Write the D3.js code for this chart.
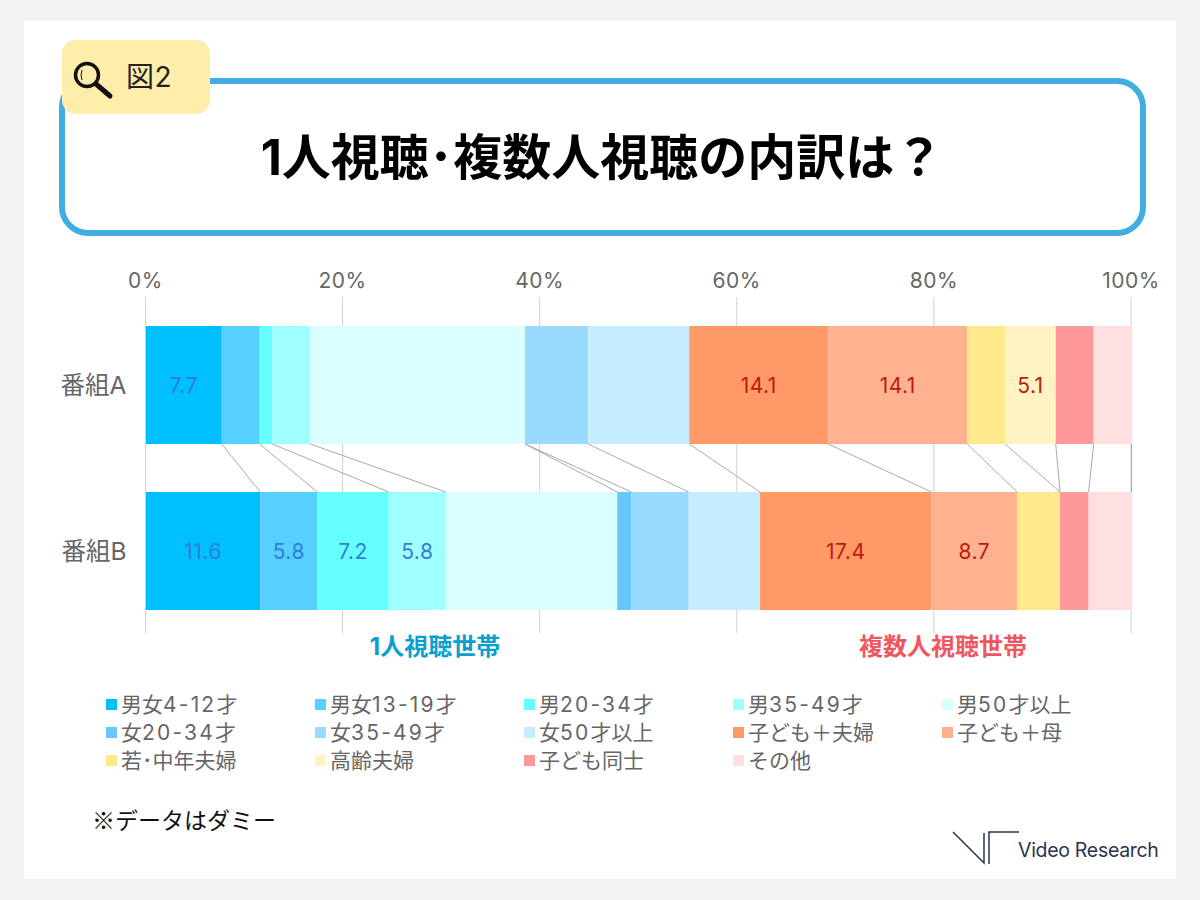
<!DOCTYPE html>
<html lang="ja">
<head>
<meta charset="utf-8">
<script src="https://cdn.jsdelivr.net/npm/d3@7"></script>
<style>
  html, body { margin: 0; padding: 0; background: #f2f2f2; }
  svg { display: block; }
  text { font-family: Inter, "Noto Sans CJK JP", sans-serif; }
</style>
</head>
<body>
<div id="figure"></div>
<script>
const programs = ["番組A", "番組B"];
const seriesNames = ["男女4-12才", "男女13-19才", "男20-34才", "男35-49才", "男50才以上",
  "女20-34才", "女35-49才", "女50才以上", "子ども＋夫婦", "子ども＋母",
  "若･中年夫婦", "高齢夫婦", "子ども同士", "その他"];
const valuesA = [7.69, 3.85, 1.28, 3.85, 21.79, 0, 6.41, 10.26, 14.1, 14.1, 3.85, 5.13, 3.85, 3.84];
const valuesB = [11.59, 5.8, 7.24, 5.8, 17.39, 1.45, 5.8, 7.24, 17.39, 8.7, 4.35, 0, 2.9, 4.35];
const labelledA = ["男女4-12才", "子ども＋夫婦", "子ども＋母", "高齢夫婦"];
const labelledB = ["男女4-12才", "男女13-19才", "男20-34才", "男35-49才", "子ども＋夫婦", "子ども＋母"];
const seriesColors = ["#00bfff", "#55d0ff", "#66ffff", "#a0ffff", "#d9ffff",
  "#66c8ff", "#99dbff", "#c6ecff", "#ff9966", "#ffb190",
  "#ffe98c", "#fff3c4", "#ff9999", "#ffe0e0"];
const xTicks = [0, 20, 40, 60, 80, 100];

const svg = d3.select("#figure").append("svg").attr("width", 1200).attr("height", 900);

// panel
svg.append("rect").attr("width", 1200).attr("height", 900).attr("fill", "#f2f2f2");
svg.append("rect").attr("x", 24).attr("y", 21).attr("width", 1152).attr("height", 858).attr("fill", "#fff");

// title box and tag
svg.append("rect").attr("x", 62).attr("y", 81).attr("width", 1081).attr("height", 152).attr("rx", 26)
  .attr("fill", "#fff").attr("stroke", "#41ade0").attr("stroke-width", 6);
svg.append("rect").attr("x", 62).attr("y", 40).attr("width", 148).attr("height", 74).attr("rx", 14).attr("fill", "#ffedab");

const icon = svg.append("g").attr("fill", "none").attr("stroke", "#111");
icon.append("circle").attr("cx", 87).attr("cy", 75).attr("r", 11.5).attr("stroke-width", 3.5);
icon.append("line").attr("x1", 96).attr("y1", 84).attr("x2", 110).attr("y2", 96)
  .attr("stroke-width", 5).attr("stroke-linecap", "round");
icon.append("path").attr("d", "M82 70Q80 75 82 80").attr("stroke-width", 1);

svg.append("text").attr("x", 126).attr("y", 87).attr("font-size", 28).attr("letter-spacing", 0.5)
  .attr("fill", "#222").text("図2");
svg.append("text").attr("x", 602).attr("y", 175).attr("text-anchor", "middle")
  .attr("font-size", 49).attr("font-weight", 700).attr("fill", "#000")
  .text("1人視聴･複数人視聴の内訳は？");

// chart
const x = d3.scaleLinear().domain([0, 100]).range([146, 1131.5]);
const y = d3.scaleBand().domain(programs).range([326, 610]).paddingInner(48 / 166);

const rows = programs.map((p, i) => {
  const row = { program: p };
  seriesNames.forEach((s, j) => { row[s] = (i === 0 ? valuesA : valuesB)[j]; });
  return row;
});
const stacked = d3.stack().keys(seriesNames)(rows);

svg.append("g").attr("transform", "translate(0,297)")
  .call(d3.axisTop(x).tickValues(xTicks).tickFormat(d => d + "%").tickSize(-336).tickPadding(9).offset(-0.5))
  .call(g => g.select(".domain").remove())
  .call(g => g.selectAll("line").attr("stroke", "#d0d0d0"))
  .call(g => g.selectAll("text").attr("font-size", 21).attr("letter-spacing", 0.5).attr("fill", "#666")
    .style("font-family", "Inter, 'Noto Sans CJK JP', sans-serif"));

svg.selectAll("g.layer").data(stacked).join("g").attr("class", "layer")
  .attr("fill", (d, i) => seriesColors[i])
  .selectAll("rect").data(d => d).join("rect")
  .attr("x", d => x(d[0]))
  .attr("y", d => y(d.data.program))
  .attr("width", d => x(d[1]) - x(d[0]))
  .attr("height", y.bandwidth());

// series lines between the two bars
svg.selectAll("line.series").data(stacked).join("line").attr("class", "series")
  .attr("x1", d => x(d[0][1])).attr("y1", y(programs[0]) + y.bandwidth())
  .attr("x2", d => x(d[1][1])).attr("y2", y(programs[1]))
  .attr("stroke", "#aaa").attr("stroke-width", 1);

// value labels
const fmt = d3.format(".1f");
stacked.forEach((layer, i) => {
  const blue = i < 8;
  layer.forEach((d, r) => {
    const shown = r === 0 ? labelledA : labelledB;
    if (!shown.includes(layer.key)) return;
    svg.append("text").attr("x", x((d[0] + d[1]) / 2)).attr("y", y(d.data.program) + y.bandwidth() / 2 + 8)
      .attr("text-anchor", "middle").attr("font-size", 21).attr("letter-spacing", 0.5)
      .attr("fill", blue ? "#2f7fd6" : "#c01a10").text(fmt(d[1] - d[0]));
  });
});

// category labels
svg.selectAll("text.cat").data(programs).join("text").attr("class", "cat")
  .attr("x", 126.5).attr("y", d => y(d) + y.bandwidth() / 2 + 9).attr("text-anchor", "end")
  .attr("font-size", 24.5).attr("fill", "#666").text(d => d);

// group captions
svg.append("text").attr("x", 435).attr("y", 655).attr("text-anchor", "middle")
  .attr("font-size", 24).attr("font-weight", 700).attr("fill", "#0b9fd0").text("1人視聴世帯");
svg.append("text").attr("x", 943).attr("y", 655).attr("text-anchor", "middle")
  .attr("font-size", 24).attr("font-weight", 700).attr("fill", "#f0565e").text("複数人視聴世帯");

// legend, digits set a little wider than the kanji
const legend = svg.selectAll("g.legend").data(seriesNames).join("g").attr("class", "legend")
  .attr("transform", (d, i) => `translate(${106 + (i % 5) * 209},${704 + Math.floor(i / 5) * 28})`);
legend.append("rect").attr("x", 0).attr("y", -5).attr("width", 11).attr("height", 11).attr("fill", (d, i) => seriesColors[i]);
legend.append("text").attr("x", 15).attr("y", 8).attr("font-size", 21).attr("fill", "#666")
  .selectAll("tspan").data(d => d.split(/([0-9-]+)/).filter(s => s)).join("tspan")
  .attr("letter-spacing", d => /[0-9]/.test(d) ? 2.2 : 0)
  .text(d => d);

// footnote and logo
svg.append("text").attr("x", 92).attr("y", 829).attr("font-size", 23)
  .style("font-family", "'Noto Sans CJK JP'").attr("fill", "#111").text("※データはダミー");
const logo = svg.append("g").attr("fill", "none").attr("stroke", "#2a3350").attr("stroke-width", 1.5);
logo.append("path").attr("d", "M953 832L984 863V833");
logo.append("path").attr("d", "M989 864V832H1019");
svg.append("text").attr("x", 1018).attr("y", 857).attr("font-size", 19.5).attr("letter-spacing", -0.3)
  .attr("fill", "#2a3350").text("Video Research");
</script>
</body>
</html>
